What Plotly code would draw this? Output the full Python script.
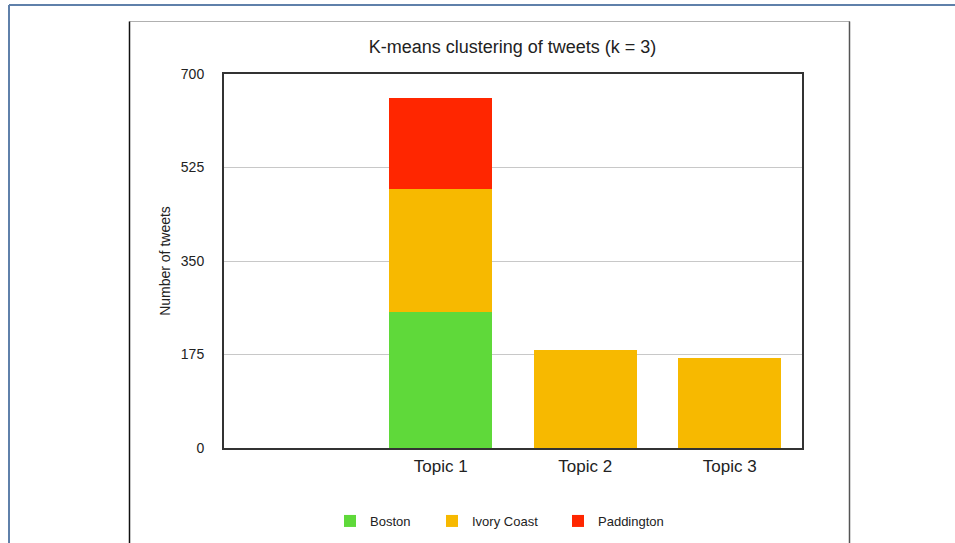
import plotly.graph_objects as go

topics = ["Topic 1", "Topic 2", "Topic 3"]
topic_pos = [1, 2, 3]
boston = [255, 0, 0]
ivory_coast = [230, 184, 168]
paddington = [170, 0, 0]
y_ticks = [0, 175, 350, 525, 700]

series = [("Boston", boston, "#5fd93a", "legend"),
          ("Ivory Coast", ivory_coast, "#f7b900", "legend2"),
          ("Paddington", paddington, "#ff2600", "legend3")]

fig = go.Figure()
for name, vals, color, leg in series:
    fig.add_trace(go.Bar(
        x=topic_pos, y=vals, name=name, legend=leg, showlegend=True,
        marker=dict(color=color, line=dict(width=0)),
    ))

W, H = 955, 543
L, R, T, B = 224, 802, 74, 448
pw, ph = R - L, B - T

def px(x):
    return (x - L) / pw

def py(y):
    return (B - y) / ph

shapes = [
    # outer frame
    dict(type="line", xref="paper", yref="paper", x0=px(9), x1=px(960), y0=py(5), y1=py(5),
         line=dict(color="#5f80aa", width=2)),
    dict(type="line", xref="paper", yref="paper", x0=px(9), x1=px(9), y0=py(5), y1=py(550),
         line=dict(color="#5f80aa", width=2)),
    # card
    dict(type="line", xref="paper", yref="paper", x0=px(129.5), x1=px(850), y0=py(21.5), y1=py(21.5),
         line=dict(color="#b0b0b0", width=1)),
    dict(type="line", xref="paper", yref="paper", x0=px(129.5), x1=px(129.5), y0=py(21.5), y1=py(550),
         line=dict(color="#111111", width=1.5)),
    dict(type="line", xref="paper", yref="paper", x0=px(849.5), x1=px(849.5), y0=py(21.5), y1=py(550),
         line=dict(color="#555555", width=1.5)),
]

leg_common = dict(orientation="h", xanchor="left", yanchor="middle", y=py(521),
                  font=dict(size=13), bgcolor="rgba(0,0,0,0)")

fig.update_layout(
    width=W, height=H,
    showlegend=True,
    margin=dict(l=L, r=W - R, t=T, b=H - B, autoexpand=False),
    paper_bgcolor="white", plot_bgcolor="white",
    barmode="stack", bargap=0.287,
    font=dict(family="Liberation Sans, Arial, sans-serif", color="#222222"),
    title=dict(text="K-means clustering of tweets (k = 3)", xref="container", x=512.5 / W,
               xanchor="center", yref="container", y=1 - 47 / H, yanchor="middle",
               font=dict(size=18, color="#222222")),
    xaxis=dict(range=[-0.5, 3.5], tickvals=topic_pos, ticktext=topics, showgrid=False,
               showline=True, linecolor="#333333", linewidth=2, mirror=True,
               ticks="outside", ticklen=2, tickcolor="rgba(0,0,0,0)",
               tickfont=dict(size=17), zeroline=False),
    yaxis=dict(range=[0, 700], tickvals=y_ticks, showgrid=True, gridcolor="#c8c8c8", gridwidth=1,
               showline=True, linecolor="#333333", linewidth=2, mirror=True,
               ticks="outside", ticklen=15, tickcolor="rgba(0,0,0,0)",
               tickfont=dict(size=14), zeroline=False,
               title=dict(text="Number of tweets", font=dict(size=14), standoff=7)),
    legend=dict(x=px(330), **leg_common),
    legend2=dict(x=px(432), **leg_common),
    legend3=dict(x=px(558), **leg_common),
    shapes=shapes,
)

fig.write_html("out.html", config={"displayModeBar": False},
               post_script="document.body.style.margin='0';")
